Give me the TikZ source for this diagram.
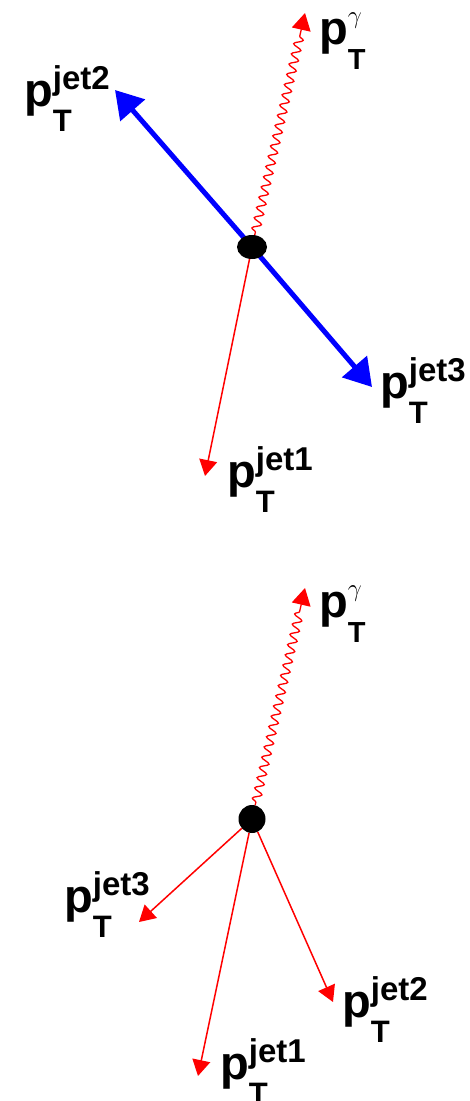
\documentclass[tikz,border=0pt]{standalone}
\usepackage{fontspec}
\setmainfont{Liberation Sans}
\usetikzlibrary{arrows.meta,decorations.pathmorphing,shapes.geometric}
\newcommand{\pTlab}[1]{{\fontsize{47}{47}\selectfont p}\rlap{\raisebox{17pt}{\fontsize{33}{33}\selectfont #1}}\raisebox{-25pt}{\fontsize{31}{31}\selectfont T}}
\newcommand{\pTgam}{{\fontsize{47}{47}\selectfont p}\rlap{\raisebox{21pt}{\fontsize{26}{26}\selectfont$\gamma$}}\raisebox{-25pt}{\fontsize{29}{29}\selectfont T}}
\tikzset{
  vtx/.style={fill=black, draw=none, ellipse, inner sep=0pt},
  lab/.style={anchor=base west, inner sep=0pt, font=\bfseries},
  redjet/.style={draw=red, line width=1.5pt, -{Triangle[length=16pt,width=18pt]}},
  bluejet/.style={draw=blue, line width=5pt, -{Triangle[length=27pt,width=32pt]}},
  photon/.style={draw=red, line width=1.3pt, decorate,
    decoration={snake, segment length=10.5pt, amplitude=4.3pt, pre length=3pt, post length=20pt},
    -{Triangle[length=17pt,width=19pt]}}
}
\begin{document}
\begin{tikzpicture}[x=1pt,y=-1pt]
\useasboundingbox (0,0) rectangle (470,1101);
% ---------- top diagram ----------
\coordinate (tg) at (305,13);
\coordinate (tj2) at (115,90);
\coordinate (tj3) at (372,387);
\coordinate (tj1) at (205,476);
\coordinate (tvc) at (252,247);
\draw[bluejet] (tvc) -- (tj2);
\draw[bluejet] (tvc) -- (tj3);
\node[vtx, minimum width=30pt, minimum height=24pt] (tv) at (tvc) {};
\draw[photon] (tv) -- (tg);
\draw[redjet] (tv) -- (tj1);
\node[lab] (ltg) at (319,44) {\pTgam};
\node[lab] (ltj2) at (24,106) {\pTlab{jet2}};
\node[lab] (ltj3) at (380,398) {\pTlab{jet3}};
\node[lab] (ltj1) at (227,487) {\pTlab{jet1}};
% ---------- bottom diagram ----------
\coordinate (bg) at (305,588);
\coordinate (bj3) at (139,922);
\coordinate (bj1) at (198,1076);
\coordinate (bj2) at (333,1002);
\node[vtx, minimum width=27pt, minimum height=28pt] (bv) at (252,819) {};
\draw[photon] (bv) -- (bg);
\draw[redjet] (bv) -- (bj3);
\draw[redjet] (bv) -- (bj1);
\draw[redjet] (bv) -- (bj2);
\node[lab] (lbg) at (319,617) {\pTgam};
\node[lab] (lbj3) at (64,912) {\pTlab{jet3}};
\node[lab] (lbj2) at (342,1017) {\pTlab{jet2}};
\node[lab] (lbj1) at (220,1079) {\pTlab{jet1}};
\end{tikzpicture}
\end{document}
